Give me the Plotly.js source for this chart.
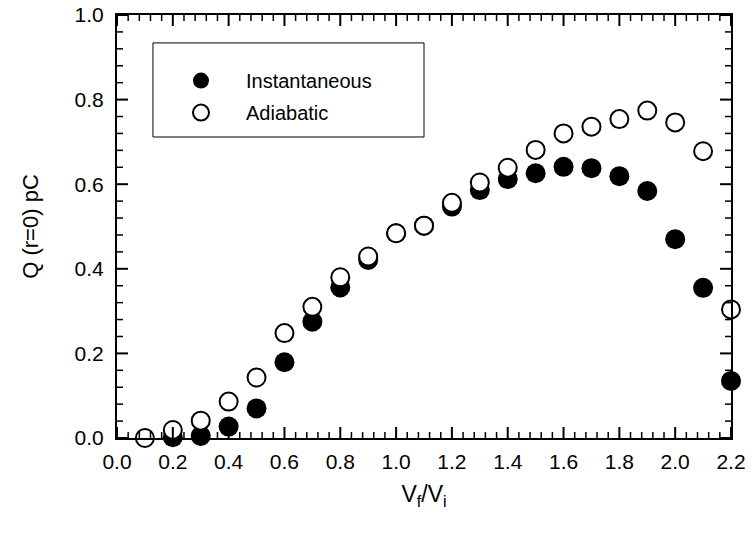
<!DOCTYPE html>
<html>
<head>
<meta charset="utf-8">
<script src="https://cdn.plot.ly/plotly-3.0.1.min.js"></script>
<style>
  html, body { margin: 0; padding: 0; background: #fff; }
  #chart { width: 754px; height: 543px; }
</style>
</head>
<body>
<div id="chart"></div>
<script>
// Data
const ratioInstant = [0.2, 0.3, 0.4, 0.5, 0.6, 0.7, 0.8, 0.9, 1.0, 1.1, 1.2, 1.3, 1.4, 1.5, 1.6, 1.7, 1.8, 1.9, 2.0, 2.1, 2.2];
const qInstant = [0.002, 0.005, 0.027, 0.070, 0.179, 0.275, 0.356, 0.421, 0.484, 0.502, 0.547, 0.586, 0.612, 0.626, 0.641, 0.638, 0.619, 0.584, 0.470, 0.355, 0.135];

const ratioAdiabatic = [0.1, 0.2, 0.3, 0.4, 0.5, 0.6, 0.7, 0.8, 0.9, 1.0, 1.1, 1.2, 1.3, 1.4, 1.5, 1.6, 1.7, 1.8, 1.9, 2.0, 2.1, 2.2];
const qAdiabatic = [0.0, 0.019, 0.041, 0.086, 0.143, 0.248, 0.310, 0.380, 0.429, 0.484, 0.502, 0.556, 0.604, 0.639, 0.681, 0.720, 0.736, 0.754, 0.774, 0.746, 0.678, 0.304];

const seriesNames = ['Instantaneous', 'Adiabatic'];
const xTitle = 'V<sub>f</sub>/V<sub>i</sub>';
const yTitle = 'Q (r=0) pC';

// Tick positions (major every 0.2, minor every 0.04)
const xMajorTicks = [0.0, 0.2, 0.4, 0.6, 0.8, 1.0, 1.2, 1.4, 1.6, 1.8, 2.0, 2.2];
const yMajorTicks = [0.0, 0.2, 0.4, 0.6, 0.8, 1.0];
const minorStep = 0.04;

const FONT = 'Liberation Sans, Arial, Helvetica, sans-serif';

const traces = [
  {
    x: ratioInstant, y: qInstant, name: seriesNames[0], type: 'scatter', mode: 'markers',
    legendgroup: 'a',
    cliponaxis: false,
    marker: { symbol: 'circle', size: 20, color: '#000000', line: { width: 0 } }
  },
  {
    x: ratioAdiabatic, y: qAdiabatic, name: seriesNames[1], type: 'scatter', mode: 'markers',
    legendgroup: 'b',
    cliponaxis: false,
    marker: { symbol: 'circle', size: 18, color: '#ffffff', line: { width: 2, color: '#000000' } }
  }
];

// Tick marks drawn as shapes anchored to the axes' own scales
function minorTicks(majors) {
  const out = [];
  for (let i = 0; i < majors.length - 1; i++) {
    for (let k = 1; k < 5; k++) out.push(+(majors[i] + k * minorStep).toFixed(3));
  }
  return out;
}
const tickShapes = [];
function addXTicks(vals, len, w) {
  vals.forEach(v => {
    tickShapes.push({ type: 'line', xref: 'x', yref: 'paper', ysizemode: 'pixel', yanchor: 0,
      x0: v, x1: v, y0: 0, y1: len, line: { color: '#000', width: w } });
    tickShapes.push({ type: 'line', xref: 'x', yref: 'paper', ysizemode: 'pixel', yanchor: 1,
      x0: v, x1: v, y0: 0, y1: -len, line: { color: '#000', width: w } });
  });
}
function addYTicks(vals, len, w) {
  vals.forEach(v => {
    tickShapes.push({ type: 'line', xref: 'paper', yref: 'y', xsizemode: 'pixel', xanchor: 0,
      y0: v, y1: v, x0: 0, x1: len, line: { color: '#000', width: w } });
    tickShapes.push({ type: 'line', xref: 'paper', yref: 'y', xsizemode: 'pixel', xanchor: 1,
      y0: v, y1: v, x0: 0, x1: -len, line: { color: '#000', width: w } });
  });
}
addXTicks(xMajorTicks, 11, 2);
addXTicks(minorTicks(xMajorTicks), 6, 1.5);
addYTicks(yMajorTicks, 11, 2);
addYTicks(minorTicks(yMajorTicks), 6, 1.5);

const axisCommon = {
  showgrid: false, zeroline: false,
  showline: true, linecolor: '#000', linewidth: 2,
  mirror: true,
  ticks: '',
  tickfont: { family: FONT, size: 21, color: '#000' },
  tickformat: '.1f',
  layer: 'above traces'
};

const layout = {
  width: 754, height: 543,
  margin: { l: 117, r: 23, t: 15, b: 105 },
  paper_bgcolor: '#fff', plot_bgcolor: '#fff',
  font: { family: FONT, color: '#000' },
  showlegend: true,
  xaxis: Object.assign({}, axisCommon, {
    range: [0, 2.2], tickvals: xMajorTicks,
    ticklabelstandoff: 4,
    title: { text: xTitle, font: { family: FONT, size: 23 }, standoff: 14 }
  }),
  yaxis: Object.assign({}, axisCommon, {
    range: [0, 1.0], tickvals: yMajorTicks,
    ticklabelstandoff: 7,
    title: { text: yTitle, font: { family: FONT, size: 22 }, standoff: 30 }
  }),
  legend: {
    x: 0.0635, y: 0.891, xanchor: 'left', yanchor: 'top',
    bgcolor: 'rgba(0,0,0,0)', borderwidth: 0,
    font: { family: FONT, size: 20, color: '#000' },
    tracegroupgap: 3, itemwidth: 80
  },
  shapes: [
    { type: 'rect', xref: 'paper', yref: 'paper', x0: 0.0586, x1: 0.5, y0: 0.7116, y1: 0.934,
      line: { color: '#000', width: 1 }, fillcolor: 'rgba(0,0,0,0)', layer: 'above' }
  ].concat(tickShapes)
};

Plotly.newPlot('chart', traces, layout, { displayModeBar: false, staticPlot: true });
</script>
</body>
</html>
